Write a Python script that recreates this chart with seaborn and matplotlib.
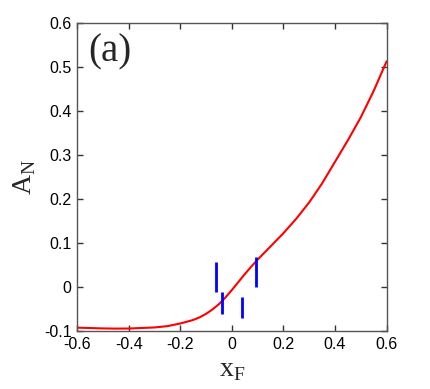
import matplotlib
matplotlib.use("Agg")
import matplotlib.pyplot as plt
import seaborn as sns
import pandas as pd

# curve
x_f = [-0.60, -0.50, -0.45, -0.40, -0.30, -0.25, -0.20, -0.15, -0.125, -0.10, -0.075,
       -0.05, -0.025, 0.0, 0.025, 0.05, 0.075, 0.10, 0.15, 0.20, 0.25, 0.30, 0.35,
       0.40, 0.45, 0.50, 0.55, 0.60]
a_n = [-0.0914, -0.0932, -0.0936, -0.0934, -0.0910, -0.0880, -0.0820, -0.0740, -0.0680,
       -0.0600, -0.0500, -0.0380, -0.0230, -0.0060, 0.0120, 0.0300, 0.0470, 0.0630,
       0.0930, 0.1230, 0.1560, 0.1930, 0.2360, 0.2850, 0.3340, 0.3860, 0.4460, 0.5130]

# blue vertical markers: x position, lower and upper value
bar_x = [-0.060, -0.040, 0.040, 0.092]
bar_lo = [-0.010, -0.060, -0.070, 0.000]
bar_hi = [0.058, -0.011, -0.021, 0.068]

sns.set_style("ticks")
plt.rcParams["font.family"] = ["Liberation Sans", "DejaVu Sans"]

fig = plt.figure(figsize=(4.31, 3.89), dpi=100)
ax = fig.add_axes([0.179, 0.148, 0.718, 0.793])

df = pd.DataFrame({"x": x_f, "y": a_n})
sns.lineplot(data=df, x="x", y="y", ax=ax, color="red", lw=1.5)
ax.vlines(bar_x, bar_lo, bar_hi, color="blue", lw=2)

ax.set_xlim(-0.6, 0.6)
ax.set_ylim(-0.1, 0.6)
ax.set_xticks([-0.6, -0.4, -0.2, 0, 0.2, 0.4, 0.6])
ax.set_xticklabels(["-0.6", "-0.4", "-0.2", "0", "0.2", "0.4", "0.6"])
ax.set_yticks([-0.1, 0, 0.1, 0.2, 0.3, 0.4, 0.5, 0.6])
ax.set_yticklabels(["-0.1", "0", "0.1", "0.2", "0.3", "0.4", "0.5", "0.6"])
ax.tick_params(direction="in", top=True, right=True, length=4, width=1,
               labelsize=11.5, colors="#333333", labelcolor="black", pad=4)
for s in ax.spines.values():
    s.set_color("#555555")
    s.set_linewidth(1)

ax.set_xlabel("x$_\\mathregular{F}$", family="Liberation Serif", fontsize=20, labelpad=4)
ax.set_ylabel("A$_\\mathregular{N}$", family="Liberation Serif", fontsize=20, labelpad=4)
ax.text(0.035, 0.965, "(a)", transform=ax.transAxes, family="Liberation Serif",
        fontsize=28, va="top", ha="left")

fig.savefig("out.png", dpi=100)
